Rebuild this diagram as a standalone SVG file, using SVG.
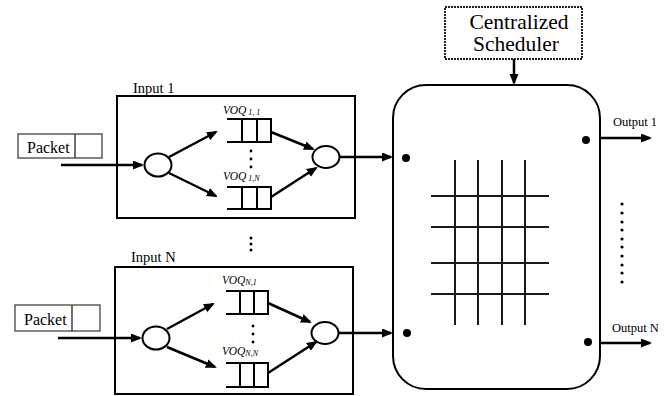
<svg xmlns="http://www.w3.org/2000/svg" width="669" height="396" viewBox="0 0 669 396">
<defs>
<marker id="ah" markerUnits="userSpaceOnUse" markerWidth="12" markerHeight="10" refX="9" refY="4.5" orient="auto">
<path d="M0,0 L11,4.5 L0,9 z" fill="#000"/>
</marker>
<style>
text{font-family:"Liberation Serif","Times New Roman",serif;fill:#000}
.box{fill:none;stroke:#000;stroke-width:2}
.pk{fill:#fff;stroke:#444;stroke-width:1.3}
.q{fill:none;stroke:#000;stroke-width:2}
.circ{fill:#fff;stroke:#000;stroke-width:2}
.arr{stroke:#000;stroke-width:2.5;fill:none;marker-end:url(#ah)}
.grid{stroke:#1a1a1a;stroke-width:2}
.voq{font-style:italic;font-size:11.5px}
.sub{font-style:italic;font-size:8px}
</style>
</defs>
<rect width="669" height="396" fill="#fff"/>

<g id="input1">
<rect class="box" x="117" y="96" width="238" height="122"/>
<text x="133" y="93" font-size="14.5">Input 1</text>
<path class="q" d="M227,119 H271 V142 H227 M242,119 V142 M257,119 V142"/>
<path class="q" d="M227,187 H271 V209 H227 M242,187 V209 M257,187 V209"/>
<text class="voq" x="223" y="114">VOQ<tspan class="sub" dy="1" dx="2">1, 1</tspan></text>
<text class="voq" x="223" y="180">VOQ<tspan class="sub" dy="1" dx="2">1,N</tspan></text>
<circle cx="251" cy="151" r="1.4"/><circle cx="251" cy="159" r="1.4"/><circle cx="251" cy="167" r="1.4"/>
<ellipse class="circ" cx="158" cy="165" rx="13.5" ry="11.5"/>
<ellipse class="circ" cx="326" cy="157" rx="13.5" ry="11"/>
</g>

<g id="packet1">
<rect class="pk" x="18" y="134" width="84" height="24"/>
<line x1="75" y1="134" x2="75" y2="158" stroke="#222" stroke-width="1.3"/>
<text x="27" y="153" font-size="16">Packet</text>
</g>

<g id="inputN">
<rect class="box" x="115" y="267" width="238" height="127"/>
<text x="131" y="262" font-size="14.5">Input N</text>
<path class="q" d="M226,291 H268 V314 H226 M240,291 V314 M254,291 V314"/>
<path class="q" d="M226,363 H268 V387 H226 M240,363 V387 M254,363 V387"/>
<text class="voq" x="222" y="284">VOQ<tspan class="sub" dy="1">N,1</tspan></text>
<text class="voq" x="222" y="355">VOQ<tspan class="sub" dy="1">N,N</tspan></text>
<circle cx="253" cy="326" r="1.4"/><circle cx="253" cy="334" r="1.4"/><circle cx="253" cy="342" r="1.4"/>
<ellipse class="circ" cx="156" cy="338" rx="13.5" ry="11.5"/>
<ellipse class="circ" cx="325" cy="333" rx="13.5" ry="11"/>
</g>

<g id="packetN">
<rect class="pk" x="15" y="305" width="85" height="26"/>
<line x1="72" y1="305" x2="72" y2="331" stroke="#222" stroke-width="1.3"/>
<text x="24" y="325" font-size="16">Packet</text>
</g>

<g id="vdots-inputs">
<circle cx="251" cy="238" r="1.5"/><circle cx="251" cy="244" r="1.5"/><circle cx="251" cy="250" r="1.5"/>
</g>

<g id="scheduler">
<rect x="445" y="7" width="137" height="52" fill="#fff" stroke="#222" stroke-width="2" stroke-dasharray="2,1"/>
<text x="519" y="29" font-size="21.5" text-anchor="middle">Centralized</text>
<text x="516" y="51" font-size="21.5" text-anchor="middle">Scheduler</text>
</g>

<g id="switch">
<rect class="box" x="393" y="85" width="207" height="304" rx="33" ry="33"/>
<g class="grid">
<line x1="455" y1="160" x2="455" y2="325"/>
<line x1="478" y1="160" x2="478" y2="325"/>
<line x1="502" y1="160" x2="502" y2="325"/>
<line x1="525" y1="160" x2="525" y2="325"/>
<line x1="431" y1="196" x2="549" y2="196"/>
<line x1="431" y1="227" x2="549" y2="227"/>
<line x1="431" y1="263" x2="549" y2="263"/>
<line x1="431" y1="294" x2="549" y2="294"/>
</g>
<circle cx="406" cy="158" r="4"/>
<circle cx="407" cy="333" r="4"/>
<circle cx="586" cy="140" r="4"/>
<circle cx="588" cy="342" r="4"/>
</g>

<g id="outputs">
<text x="613" y="126" font-size="12.5">Output 1</text>
<text x="612" y="332" font-size="12.5">Output N</text>
<g>
<circle cx="622" cy="204" r="1.6"/><circle cx="622" cy="213" r="1.6"/><circle cx="622" cy="222" r="1.6"/>
<circle cx="622" cy="230" r="1.6"/><circle cx="622" cy="239" r="1.6"/><circle cx="622" cy="247" r="1.6"/>
<circle cx="622" cy="256" r="1.6"/><circle cx="622" cy="265" r="1.6"/><circle cx="622" cy="273" r="1.6"/>
<circle cx="622" cy="282" r="1.6"/>
</g>
</g>

<g id="connectors">
<line class="arr" x1="61" y1="165" x2="142" y2="165"/>
<line class="arr" x1="169" y1="157" x2="216" y2="132"/>
<line class="arr" x1="169" y1="173" x2="216" y2="196"/>
<line class="arr" x1="271" y1="132" x2="313" y2="149"/>
<line class="arr" x1="271" y1="197" x2="316" y2="168"/>
<line class="arr" x1="340" y1="157" x2="391" y2="157"/>

<line class="arr" x1="58" y1="338" x2="140" y2="338"/>
<line class="arr" x1="167" y1="329" x2="213" y2="304"/>
<line class="arr" x1="167" y1="347" x2="215" y2="367"/>
<line class="arr" x1="268" y1="303" x2="310" y2="322"/>
<line class="arr" x1="268" y1="373" x2="316" y2="342"/>
<line class="arr" x1="339" y1="333" x2="391" y2="333"/>

<line class="arr" x1="514" y1="59" x2="514" y2="83"/>
<line class="arr" x1="600" y1="138" x2="650" y2="138"/>
<line class="arr" x1="600" y1="343" x2="650" y2="343"/>
</g>
</svg>
